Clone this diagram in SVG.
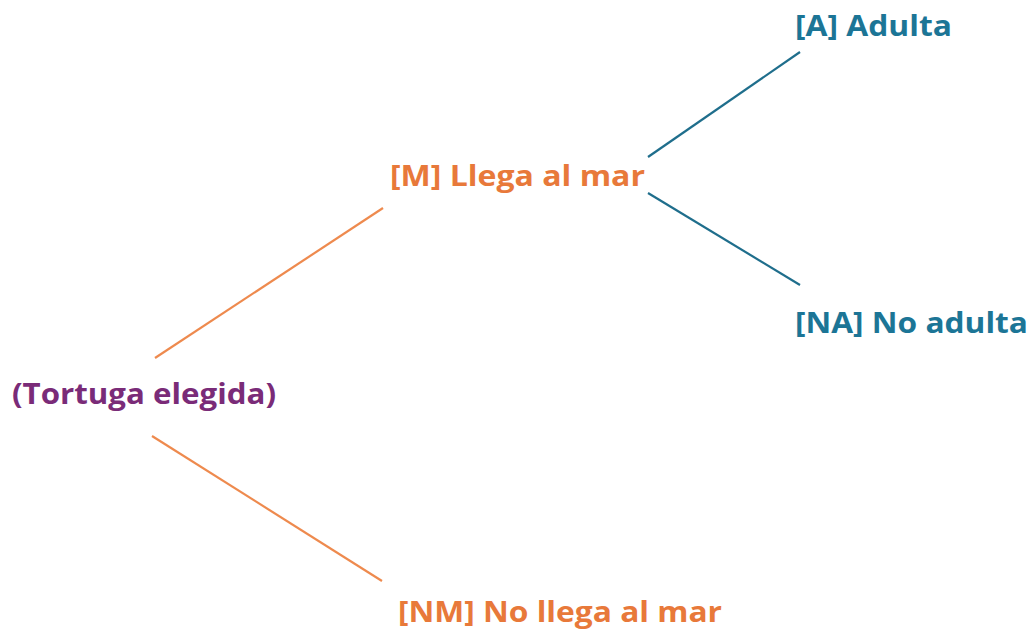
<svg xmlns="http://www.w3.org/2000/svg" width="1034" height="631" viewBox="0 0 1034 631">
<style>
text{font-family:"Open Sans","Liberation Sans",sans-serif;font-weight:700;font-size:29px}
.o{fill:#E8793A}.t{fill:#1C7596}.p{fill:#7A2B78}
.lo{stroke:#EE8A4E;stroke-width:2.2;fill:none}.lt{stroke:#1F6E8C;stroke-width:2.2;fill:none}
</style>
<rect width="1034" height="631" fill="#fff"/>
<g id="connectors">
<line class="lo" x1="155" y1="358" x2="383" y2="208"/>
<line class="lo" x1="152" y1="436" x2="382" y2="581"/>
<line class="lt" x1="648" y1="157" x2="800" y2="52"/>
<line class="lt" x1="648" y1="193" x2="800" y2="285"/>
</g>
<g id="root"><text class="p" x="12" y="404" textLength="264" lengthAdjust="spacingAndGlyphs">(Tortuga elegida)</text></g>
<g id="M"><text class="o" x="390" y="186" textLength="255" lengthAdjust="spacingAndGlyphs">[M] Llega al mar</text></g>
<g id="NM"><text class="o" x="398" y="622" textLength="324" lengthAdjust="spacingAndGlyphs">[NM] No llega al mar</text></g>
<g id="A"><text class="t" x="795" y="36" textLength="157" lengthAdjust="spacingAndGlyphs">[A] Adulta</text></g>
<g id="NA"><text class="t" x="795" y="333" textLength="233" lengthAdjust="spacingAndGlyphs">[NA] No adulta</text></g>
</svg>
